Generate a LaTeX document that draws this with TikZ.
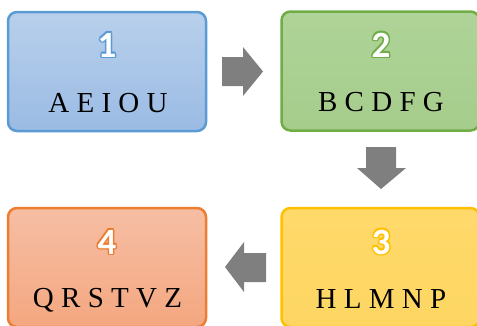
\documentclass[tikz,border=0pt]{standalone}
\usepackage{fontspec}
\setmainfont{Liberation Serif}
\newfontfamily\digitfont{Carlito}
\definecolor{blueB}{HTML}{5B9BD5}
\definecolor{blueT}{HTML}{B8D0EB}
\definecolor{blueD}{HTML}{9BBBE4}
\definecolor{greenB}{HTML}{70AD47}
\definecolor{greenT}{HTML}{AFD398}
\definecolor{greenD}{HTML}{A6CD8C}
\definecolor{yellowB}{HTML}{FFC000}
\definecolor{yellowT}{HTML}{FFD96A}
\definecolor{yellowD}{HTML}{FDD662}
\definecolor{orangeB}{HTML}{ED7D31}
\definecolor{orangeT}{HTML}{F6BEA4}
\definecolor{orangeD}{HTML}{F4A780}
\definecolor{arrowgray}{HTML}{7F7F7F}
\newcommand\outlinedigit[3]{%
  \foreach \a in {0,45,...,315}
    \node[digit, text=#2, shift={(\a:1.5pt)}] at (#1) {#3};
  \node[digit, text=white] at (#1) {#3};}
\begin{document}
\begin{tikzpicture}[x=1pt,y=-1pt,
  box/.style={draw, line width=2.5pt, rounded corners=9pt, minimum width=198pt, minimum height=119pt, inner sep=0pt},
  digit/.style={font=\digitfont\bfseries\fontsize{37}{37}\selectfont, anchor=base, inner sep=0pt},
  letters/.style={font=\fontsize{29}{29}\selectfont, anchor=base, inner sep=0pt, text=black},
  blockarrow/.style={fill=arrowgray, draw=none}]
\useasboundingbox (0,0) rectangle (477,325);
\node[box, draw=blueB, top color=blueT, bottom color=blueD] (b1) at (107,71.5) {};
\node[box, draw=greenB, top color=greenT, bottom color=greenD] (b2) at (380.5,71) {};
\node[box, draw=yellowB, top color=yellowT, bottom color=yellowD] (b3) at (380.5,267.5) {};
\node[box, draw=orangeB, top color=orangeT, bottom color=orangeD] (b4) at (107,267.5) {};
\coordinate (d1) at (107,57);
\coordinate (d2) at (381,57);
\coordinate (d3) at (381,254);
\coordinate (d4) at (107,254);
\outlinedigit{d1}{blueB}{1}
\outlinedigit{d2}{greenB}{2}
\outlinedigit{d3}{yellowB}{3}
\outlinedigit{d4}{orangeB}{4}
\node[letters] (t1) at (108,112) {A E I O U};
\node[letters] (t2) at (381,111) {B C D F G};
\node[letters] (t3) at (381,308) {H L M N P};
\node[letters] (t4) at (107.5,307) {Q R S T V Z};
\path[blockarrow] (222,57) -- (243,57) -- (243,47) -- (263,71.5) -- (243,96) -- (243,86) -- (222,86) -- cycle;
\path[blockarrow] (366,147) -- (396,147) -- (396,168) -- (406,168) -- (381,189) -- (357,168) -- (366,168) -- cycle;
\path[blockarrow] (266,253) -- (244,253) -- (244,242) -- (225,267) -- (244,292) -- (244,282) -- (266,282) -- cycle;
\end{tikzpicture}
\end{document}
